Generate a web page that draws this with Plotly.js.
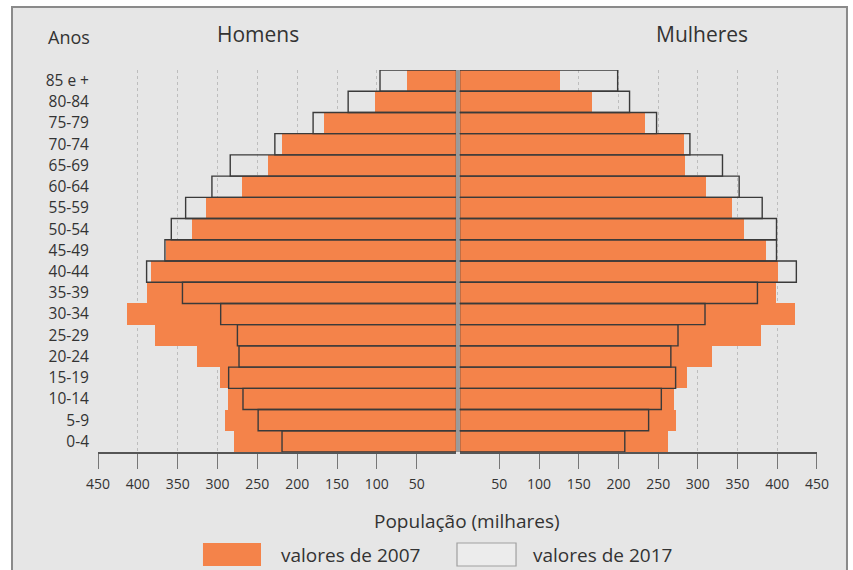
<!DOCTYPE html>
<html>
<head>
<meta charset="utf-8">
<script src="https://cdn.plot.ly/plotly-3.0.1.min.js"></script>
<style>
html,body{margin:0;padding:0;background:#fff;}
#chart{width:853px;height:570px;}
</style>
</head>
<body>
<div id="chart"></div>
<script>
// Age groups, bottom to top
const ageGroups = ['0-4','5-9','10-14','15-19','20-24','25-29','30-34','35-39','40-44','45-49','50-54','55-59','60-64','65-69','70-74','75-79','80-84','85 e +'];
// Population (thousands)
const men2007   = [279, 290, 287, 297, 326, 378, 414, 388, 383, 365, 332, 314, 269, 237, 219, 166, 102, 62];
const men2017   = [219, 249, 268, 286, 273, 275, 296, 344, 389, 366, 358, 340, 307, 284, 228, 180, 136, 96];
const women2007 = [263, 273, 270, 286, 318, 380, 422, 398, 401, 386, 358, 343, 310, 284, 282, 234, 167, 127];
const women2017 = [208, 238, 254, 272, 266, 275, 309, 375, 424, 399, 399, 381, 352, 331, 290, 248, 214, 199];
const tickValues = [50, 100, 150, 200, 250, 300, 350, 400, 450];
const tickLabels = ['50','100','150','200','250','300','350','400','450'];
const sideTitles = ['Homens', 'Mulheres'];
const legendLabels = ['valores de 2007', 'valores de 2017'];

const ORANGE = '#f4834a';
const OUTLINE = '#3a3a3a';
const FONT = '"Open Sans", Roboto, sans-serif';
const TXT = '#333';

function fillTrace(vals, xa) {
  return {type:'bar', orientation:'h', y: ageGroups, x: vals, xaxis: xa, yaxis:'y',
    marker:{color: ORANGE, line:{width:0}}, showlegend:false, hoverinfo:'x+y'};
}
function outlineTrace(vals, xa) {
  return {type:'bar', orientation:'h', y: ageGroups, x: vals, xaxis: xa, yaxis:'y',
    marker:{color:'rgba(0,0,0,0)', line:{color: OUTLINE, width:1.4}}, showlegend:false, hoverinfo:'x+y'};
}

const data = [
  fillTrace(men2007, 'x'), fillTrace(women2007, 'x2'),
  outlineTrace(men2017, 'x'), outlineTrace(women2017, 'x2')
];

const xCommon = {
  tickvals: tickValues, ticktext: tickLabels,
  showline: true, linecolor: '#555', linewidth: 1.5,
  ticks: 'outside', ticklen: 15, tickcolor: '#777', tickwidth: 1,
  showgrid: true, gridcolor: '#bdbdbd', griddash: 'dot', gridwidth: 1,
  zeroline: false, layer: 'below traces',
  tickfont: {family: FONT, size: 14, color: TXT}, ticklabelstandoff: 4,
  fixedrange: true
};

const layout = {
  width: 853, height: 570,
  margin: {l: 98, r: 36, t: 70, b: 118},
  paper_bgcolor: '#ffffff', plot_bgcolor: 'rgba(0,0,0,0)',
  barmode: 'overlay', bargap: 0,
  font: {family: FONT, color: TXT},
  xaxis: Object.assign({}, xCommon, {domain: [0, 0.4986], range: [450, 0], anchor: 'y'}),
  xaxis2: Object.assign({}, xCommon, {domain: [0.5029, 1], range: [0, 450], anchor: 'y'}),
  yaxis: {
    type: 'category', categoryorder: 'array', categoryarray: ageGroups,
    range: [-0.5, 17.5], showgrid: false, showline: false, zeroline: false, ticks: '',
    tickfont: {family: FONT, size: 15.5, color: TXT}, ticklabelstandoff: 8, fixedrange: true
  },
  shapes: [
    {type:'rect', xref:'paper', yref:'paper', x0:-0.1196, x1:1.0417, y0:-0.34, y1:1.165,
     fillcolor:'#e6e6e6', line:{color:'#8a8a8a', width:2}, layer:'below'},
    {type:'line', xref:'paper', yref:'paper', x0:0.5, x1:0.5, y0:0, y1:1,
     line:{color:'#9a9a9a', width:3}, layer:'above'},
    {type:'rect', xref:'paper', yref:'paper', x0:0.146, x1:0.2267, y0:-0.2984, y1:-0.2382,
     fillcolor: ORANGE, line:{width:0}},
    {type:'rect', xref:'paper', yref:'paper', x0:0.4993, x1:0.5814, y0:-0.2984, y1:-0.2382,
     fillcolor:'#ececec', line:{color:'#a0a0a0', width:1.2}}
  ],
  annotations: [
    {xref:'paper', yref:'paper', x:-0.0403, y:1.0864, text:'Anos', showarrow:false,
     xanchor:'center', yanchor:'middle', font:{family:FONT, size:18, color:TXT}},
    {xref:'paper', yref:'paper', x:0.2225, y:1.0955, text: sideTitles[0], showarrow:false,
     xanchor:'center', yanchor:'middle', font:{family:FONT, size:21, color:TXT}},
    {xref:'paper', yref:'paper', x:0.840, y:1.0955, text: sideTitles[1], showarrow:false,
     xanchor:'center', yanchor:'middle', font:{family:FONT, size:21, color:TXT}},
    {xref:'paper', yref:'paper', x:0.513, y:-0.1806, text:'População (milhares)', showarrow:false,
     xanchor:'center', yanchor:'middle', font:{family:FONT, size:19, color:TXT}},
    {xref:'paper', yref:'paper', x:0.2517, y:-0.2696, text: legendLabels[0], showarrow:false,
     xanchor:'left', yanchor:'middle', font:{family:FONT, size:19, color:TXT}},
    {xref:'paper', yref:'paper', x:0.6022, y:-0.2696, text: legendLabels[1], showarrow:false,
     xanchor:'left', yanchor:'middle', font:{family:FONT, size:19, color:TXT}}
  ]
};

Plotly.newPlot('chart', data, layout, {displayModeBar: false, staticPlot: true});
</script>
</body>
</html>
